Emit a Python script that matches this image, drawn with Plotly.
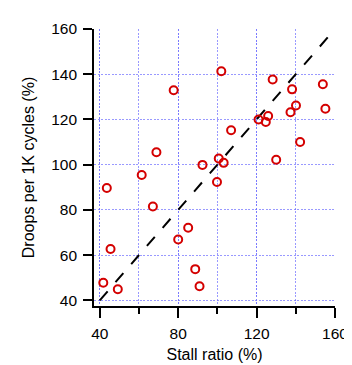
import plotly.graph_objects as go

stall_ratio = [102, 77.7, 128.2, 153.8, 138.1, 140.1, 137.3, 155.1, 125.9, 124.7,
               121.0, 107.0, 142.2, 68.9, 100.7, 103.2, 130.0, 92.4,
               43.6, 61.4, 99.8, 67.1, 85.1, 80.0, 45.5, 88.7, 90.9, 41.8, 49.2]
droops = [141.3, 132.9, 137.7, 135.6, 133.3, 126.2, 123.2, 124.7, 121.5, 118.9,
          120.0, 115.2, 110.0, 105.5, 102.7, 100.8, 102.2, 99.9,
          89.7, 95.4, 92.3, 81.5, 72.1, 66.9, 62.7, 53.8, 46.2, 47.8, 44.9]
diag_x = [40, 160]
diag_y = [40, 160]
tick_vals_x = [40, 80, 120, 160]
tick_vals_y = [40, 60, 80, 100, 120, 140, 160]

FONT = "Liberation Sans, Arial, Helvetica, sans-serif"
GRID = "rgba(110,110,255,0.7)"
RED = "#d40000"

fig = go.Figure()
fig.add_trace(go.Scatter(
    x=diag_x, y=diag_y, mode="lines",
    line=dict(color="black", width=2, dash="12px,12px"),
    hoverinfo="skip", showlegend=False))
fig.add_trace(go.Scatter(
    x=stall_ratio, y=droops, mode="markers",
    marker=dict(symbol="circle-open", size=8, color=RED,
                line=dict(width=2, color=RED)),
    showlegend=False))

fig.update_layout(
    width=352, height=365,
    margin=dict(l=86, r=15, t=13, b=57),
    paper_bgcolor="white", plot_bgcolor="white",
    font=dict(family=FONT, size=15.5, color="black"),
    xaxis=dict(
        range=[37.06, 160], tickvals=tick_vals_x,
        showline=True, linecolor="black", linewidth=1.6, mirror=False,
        ticks="outside", ticklen=10, tickwidth=1.6, tickcolor="black",
        ticklabelstandoff=3,
        minor=dict(dtick=20, tick0=40, ticks="outside", ticklen=6, tickwidth=1.6,
                   tickcolor="black", showgrid=True, gridcolor=GRID,
                   griddash="2px,1.5px", gridwidth=1),
        showgrid=True, gridcolor=GRID, griddash="2px,1.5px", gridwidth=1,
        zeroline=False,
        title=dict(text="Stall ratio (%)", font=dict(size=16, family=FONT), standoff=7),
    ),
    yaxis=dict(
        range=[37.5, 160], tickvals=tick_vals_y,
        showline=True, linecolor="black", linewidth=1.6, mirror=False,
        ticks="outside", ticklen=9, tickwidth=1.6, tickcolor="black",
        ticklabelstandoff=3,
        showgrid=True, gridcolor=GRID, griddash="2px,1.5px", gridwidth=1,
        zeroline=False,
        title=dict(text="Droops per 1K cycles (%)", font=dict(size=16, family=FONT), standoff=13),
    ),
)

fig.write_html("out.html")
